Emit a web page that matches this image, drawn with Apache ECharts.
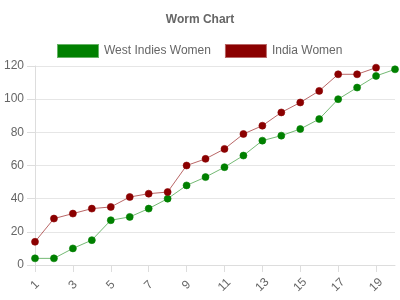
<!DOCTYPE html>
<html><head><meta charset="utf-8">
<script src="https://cdn.jsdelivr.net/npm/echarts@6/dist/echarts.min.js"></script>
<style>html,body{margin:0;padding:0;background:#fff}#c{width:400px;height:300px}</style>
</head><body><div id="c"></div>
<script>
var overs = ['1','2','3','4','5','6','7','8','9','10','11','12','13','14','15','16','17','18','19','20'];
var westIndies = [4,4,10,15,27,29,34,40,48,53,59,66,75,78,82,88,100,107,114,118];
var india = [14,28,31,34,35,41,43,44,60,64,70,79,84,92,98,105,115,115,119];
var yTicks = {min:0, max:120, interval:20};
var font = 'Liberation Sans, Arial, Helvetica, sans-serif';
var chart = echarts.init(document.getElementById('c'));
chart.setOption({
  animation:false,
  textStyle:{fontFamily:font},
  title:{text:'Worm Chart', left:'center', top:9, textStyle:{fontSize:12, fontWeight:'bold', color:'#666', fontFamily:font}},
  legend:{top:44, left:57, padding:0, icon:'rect', itemWidth:40, itemHeight:12, itemGap:14,
    textStyle:{fontSize:12, color:'#666', fontFamily:font, padding:[0,0,0,1]},
    data:['West Indies Women','India Women']},
  grid:{left:35, right:5, top:66, bottom:35, containLabel:false},
  xAxis:{type:'category', data:overs, boundaryGap:false,
    axisLine:{lineStyle:{color:'#ddd'}},
    axisTick:{length:7, interval:1, lineStyle:{color:'#ddd'}},
    axisLabel:{interval:1, rotate:45, align:'center', verticalAlign:'middle', color:'#666', fontSize:12, margin:20, fontFamily:font},
    splitLine:{show:false}},
  yAxis:{type:'value', min:yTicks.min, max:yTicks.max, interval:yTicks.interval,
    axisLine:{show:true, lineStyle:{color:'#ddd'}},
    axisTick:{show:true, length:8, lineStyle:{color:'#ddd'}},
    axisLabel:{color:'#666', fontSize:12, margin:11, fontFamily:font},
    splitLine:{lineStyle:{color:'#e6e6e6'}}},
  series:[
    {name:'West Indies Women', type:'line', data:westIndies, symbol:'circle', symbolSize:7,
      lineStyle:{color:'rgba(0,128,0,0.55)', width:1},
      itemStyle:{color:'#008000', borderColor:'rgba(0,128,0,0.6)', borderWidth:1}},
    {name:'India Women', type:'line', data:india, symbol:'circle', symbolSize:7,
      lineStyle:{color:'rgba(139,0,0,0.6)', width:1},
      itemStyle:{color:'#8b0000', borderColor:'rgba(139,0,0,0.6)', borderWidth:1}}
  ],
  color:['#008000','#8b0000']
});
</script></body></html>
